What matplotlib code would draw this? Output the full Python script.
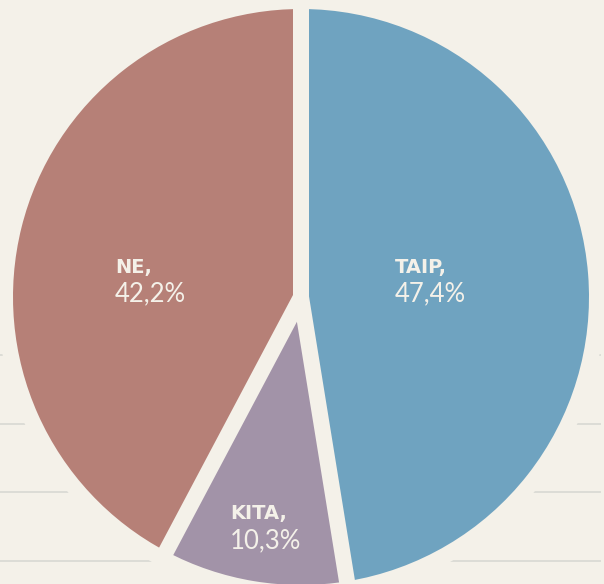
import numpy as np
import matplotlib
matplotlib.use("Agg")
import matplotlib.pyplot as plt
from matplotlib.patches import Circle

# Data
categories = ["TAIP", "KITA", "NE"]
values = [47.4, 10.3, 42.2]
value_labels = ["47,4%", "10,3%", "42,2%"]

# Style
colors = ["#6fa3c0", "#a293a8", "#b68077"]
bg = "#f4f1e9"
grid_color = "#dcdcd6"
W, H = 604, 584
cx, cy = 301, 584 - 297
R = 288
gap_px = 16

fig = plt.figure(figsize=(W / 100, H / 100), dpi=100)
fig.patch.set_facecolor(bg)
ax = fig.add_axes([0, 0, 1, 1])
ax.set_facecolor(bg)

# faint horizontal guide lines behind the pie
for yy in [355, 424, 492, 561]:
    ax.plot([0, 600], [H - yy, H - yy], color=grid_color, lw=1.4, zorder=0)

# cream ring around pie covering guide lines
ax.add_patch(Circle((cx, cy), R + gap_px, facecolor=bg, edgecolor="none", zorder=1))

wedges, _ = ax.pie(values, colors=colors, startangle=90, counterclock=False,
                   radius=R, center=(cx, cy), frame=True,
                   wedgeprops=dict(linewidth=0))
for w in wedges:
    w.set_zorder(2)
ax.set_xlim(0, W)
ax.set_ylim(0, H)
ax.set_aspect("equal")
ax.axis("off")

# separators along wedge boundaries
total = sum(values)
cum = np.concatenate([[0], np.cumsum(values)]) / total
lw_pt = gap_px * 72 / 100
for frac in cum[:-1]:
    ang = np.deg2rad(90 - 360 * frac)
    ax.plot([cx, cx + (R + 30) * np.cos(ang)], [cy, cy + (R + 30) * np.sin(ang)],
            color=bg, lw=lw_pt, solid_capstyle="round", zorder=3)

# labels (left-aligned, offsets from pie centre)
label_pos = {"TAIP": (94, 30), "KITA": (-71, -217), "NE": (-186, 30)}
for cat, vl in zip(categories, value_labels):
    dx, dy = label_pos[cat]
    x, y = cx + dx, cy + dy
    ax.text(x, y, cat + ",", color=bg, fontsize=14, fontweight="heavy",
            family=["DejaVu Sans"], ha="left", va="center", zorder=4)
    ax.text(x, y - 27, vl, color=bg, fontsize=18.5, fontweight="normal",
            family=["Lato", "DejaVu Sans"], ha="left", va="center", zorder=4)

fig.savefig("out.png", dpi=100, facecolor=bg)
